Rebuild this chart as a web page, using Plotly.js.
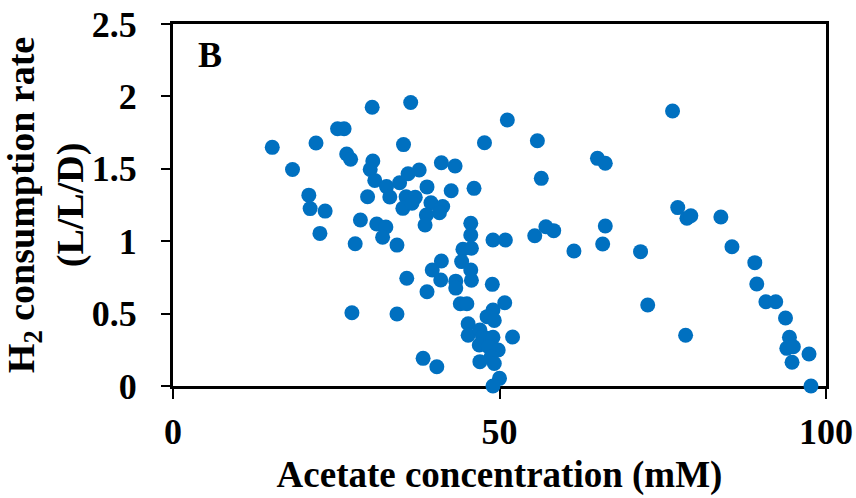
<!DOCTYPE html>
<html>
<head>
<meta charset="utf-8">
<script src="https://cdn.plot.ly/plotly-3.0.1.min.js"></script>
<style>html,body{margin:0;padding:0;background:#fff;}#chart{width:856px;height:498px;}</style>
</head>
<body>
<div id="chart"></div>
<script>
// Acetate concentration (mM)
const acetate = [
  15.2, 18.3, 21.9, 25.2, 26.2, 30.5, 36.4, 35.3, 26.6, 27.2,
  30.6, 30.2, 30.9, 32.7, 34.7, 36.0, 37.7, 33.2, 29.8, 35.7,
  37.1, 35.2, 36.6, 20.8, 21.0, 23.3, 28.7, 31.2, 32.6, 32.1,
  34.3, 27.9, 22.5, 38.9, 41.1, 43.2, 42.6, 46.1, 39.5, 41.3,
  40.8, 38.8, 38.6, 47.7, 51.2, 55.8, 56.4, 65.0, 66.2, 76.5,
  45.6, 45.6, 44.4, 45.7, 44.2, 45.6, 45.7, 43.3, 43.3, 41.1,
  39.7, 41.0, 38.9, 35.8, 49.0, 50.9, 48.9, 44.0, 45.0, 50.8,
  49.0, 48.1, 49.2, 45.2, 45.2, 47.0, 47.4, 48.1, 49.0, 52.0,
  46.9, 48.3, 49.8, 48.7, 47.0, 49.2, 50.0, 49.0, 38.3, 40.4,
  27.4, 34.3,
  55.4, 57.1, 58.3, 61.4, 66.2, 65.8, 71.6, 72.7, 77.3, 78.7,
  79.3, 83.9, 85.6, 89.1, 89.4, 90.8, 92.3, 78.5, 93.8, 94.4,
  94.0, 95.0, 94.8, 97.4, 97.7
];
// H2 consumption rate (L/L/D)
const h2Rate = [
  1.648, 1.495, 1.678, 1.777, 1.777, 1.925, 1.958, 1.667, 1.602, 1.566,
  1.554, 1.496, 1.420, 1.377, 1.404, 1.466, 1.492, 1.305, 1.307, 1.307,
  1.303, 1.227, 1.262, 1.318, 1.225, 1.208, 1.146, 1.119, 1.098, 1.027,
  0.973, 0.982, 1.054, 1.375, 1.542, 1.519, 1.348, 1.365, 1.266, 1.240,
  1.197, 1.181, 1.112, 1.680, 1.837, 1.694, 1.434, 1.572, 1.538, 1.899,
  1.124, 1.043, 0.944, 0.951, 0.859, 0.801, 0.730, 0.724, 0.676, 0.863,
  0.801, 0.732, 0.651, 0.744, 1.008, 1.008, 0.702, 0.568, 0.568, 0.575,
  0.525, 0.479, 0.453, 0.430, 0.350, 0.387, 0.340, 0.329, 0.336, 0.338,
  0.283, 0.271, 0.249, 0.200, 0.168, 0.155, 0.053, 0.000, 0.191, 0.133,
  0.506, 0.497,
  1.038, 1.100, 1.073, 0.932, 1.105, 0.981, 0.928, 0.559, 1.232, 1.158,
  1.176, 1.167, 0.962, 0.852, 0.704, 0.582, 0.582, 0.350, 0.470, 0.336,
  0.260, 0.271, 0.164, 0.221, 0.000
];
const xTickVals = [0, 50, 100];
const yTickVals = [0, 0.5, 1, 1.5, 2, 2.5];
const yTickText = ['0', '0.5', '1', '1.5', '2', '2.5'];
const panelLabel = 'B';
const xTitle = 'Acetate concentration (mM)';
const yTitle = 'H<sub>2</sub> consumption rate<br>(L/L/D)';

const serif = '"Liberation Serif", "Times New Roman", serif';

const trace = {
  type: 'scatter',
  mode: 'markers',
  x: acetate,
  y: h2Rate,
  cliponaxis: false,
  marker: {color: '#0070C0', size: 15, line: {width: 0}},
  hoverinfo: 'x+y'
};

const layout = {
  width: 856, height: 498,
  margin: {l: 173, r: 30, t: 24, b: 112, pad: 0},
  paper_bgcolor: '#ffffff', plot_bgcolor: '#ffffff',
  showlegend: false,
  font: {family: serif, color: '#000'},
  xaxis: {
    range: [0, 100], tickvals: xTickVals, ticktext: xTickVals.map(String),
    showgrid: false, zeroline: false,
    showline: true, linecolor: '#000', linewidth: 3, mirror: true,
    ticks: 'outside', ticklen: 10, tickwidth: 2, tickcolor: '#000',
    tickfont: {family: serif, size: 36, color: '#000', weight: 'bold'},
    ticklabelstandoff: 2,
    layer: 'below traces',
    title: {text: '<b>' + xTitle + '</b>', font: {family: serif, size: 37, color: '#000'}, standoff: 10}
  },
  yaxis: {
    range: [0, 2.5], tickvals: yTickVals, ticktext: yTickText,
    showgrid: false, zeroline: false,
    showline: true, linecolor: '#000', linewidth: 3, mirror: true,
    ticks: 'outside', ticklen: 9, tickwidth: 2, tickcolor: '#000',
    tickfont: {family: serif, size: 36, color: '#000', weight: 'bold'},
    ticklabelstandoff: 17,
    layer: 'below traces',
    title: {text: '<b>' + yTitle + '</b>', font: {family: serif, size: 38, color: '#000'}, standoff: 0}
  },
  annotations: [{
    text: '<b>' + panelLabel + '</b>',
    xref: 'paper', yref: 'paper', x: 0.0567, y: 0.915,
    xanchor: 'center', yanchor: 'middle', showarrow: false,
    font: {family: serif, size: 36, color: '#000'}
  }]
};

Plotly.newPlot('chart', [trace], layout, {displayModeBar: false, staticPlot: true});
</script>
</body>
</html>
